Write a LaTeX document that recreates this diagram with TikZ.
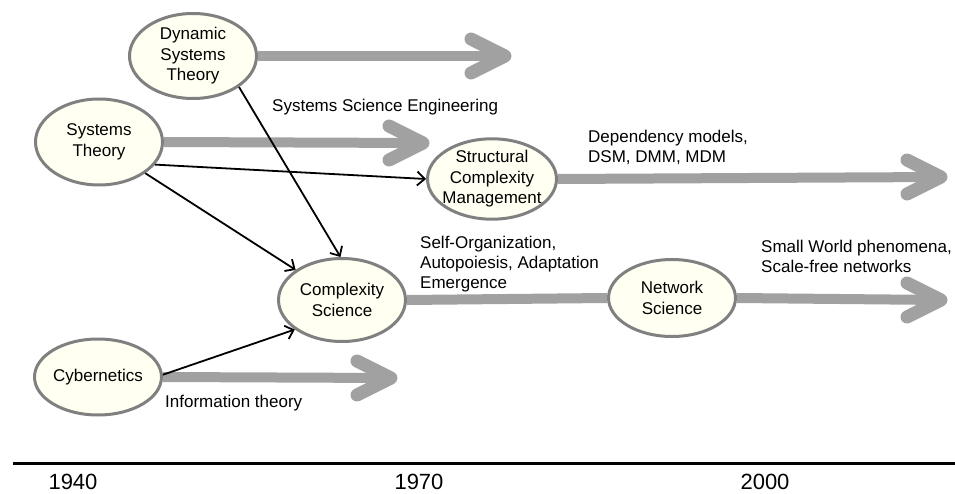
\documentclass[tikz,border=0pt]{standalone}
\usepackage{fontspec}
\setmainfont{Liberation Sans}
\usetikzlibrary{arrows.meta,shapes.geometric}
\definecolor{FieldClr}{rgb}{0.5,0.5,0.5}
\definecolor{FieldFillClr}{rgb}{1,1,0.95}
\definecolor{FlowClr}{rgb}{0.63,0.63,0.63}

\begin{document}
\begin{tikzpicture}[x=1pt,y=-1pt,
  field/.style={ellipse,draw=FieldClr,fill=FieldFillClr,line width=3pt,minimum width=127pt,minimum height=82pt,inner xsep=-4pt,inner ysep=0pt,align=center,font=\fontsize{17}{20.5}\selectfont},
  note/.style={anchor=west,align=left,inner sep=0pt,font=\fontsize{17}{20}\selectfont},
  year/.style={anchor=base,inner sep=0pt,font=\fontsize{22}{26}\selectfont},
  flow/.style={line width=10pt,color=FlowClr},
  head/.style={line width=13pt,color=FlowClr,line cap=round,line join=round},
  link/.style={line width=1.8pt,-{Straight Barb[length=7.5pt,width=14pt]}}]
\useasboundingbox (0,0) rectangle (955,494);

\node[field,minimum height=85pt] (DST) at (193,56) {Dynamic\\Systems\\Theory};
\node[field,minimum height=86pt] (ST) at (99,142) {Systems\\Theory};
\node[field,minimum height=80pt] (SCM) at (492,179) {Structural\\Complexity\\Management};
\node[field,minimum height=83pt] (CS) at (342,300) {Complexity\\Science};
\node[field,minimum height=77pt] (NS) at (672,298) {Network\\Science};
\node[field,minimum height=76pt] (CY) at (98,377) {Cybernetics};

\coordinate (DSTend) at (505,56);
\coordinate (STend) at (423,143);
\coordinate (SCMend) at (941,177);
\coordinate (NSend) at (941,300);
\coordinate (CYend) at (391,378);

\draw[flow] (DST.east) -- (DSTend);
\draw[flow] (ST.east) -- (STend);
\draw[flow] (SCM.east) -- (SCMend);
\draw[flow] (CS.east) -- (NS.west);
\draw[flow] (NS.east) -- (NSend);
\draw[flow] (CY.east) -- (CYend);

\draw[head] (DSTend) ++(-34,-17) -- (DSTend) -- ++(-34,17);
\draw[head] (STend) ++(-34,-17) -- (STend) -- ++(-34,17);
\draw[head] (SCMend) ++(-34,-17) -- (SCMend) -- ++(-34,17);
\draw[head] (NSend) ++(-34,-17) -- (NSend) -- ++(-34,17);
\draw[head] (CYend) ++(-34,-17) -- (CYend) -- ++(-34,17);

\draw[link] (DST.-34) -- (CS.92);
\draw[link] (ST.-22) -- (SCM.west);
\draw[link] (ST.-34) -- (CS.147);
\draw[link] (CY.2) -- (CS.212);

\node[note] (SSE) at (272,107) {Systems Science Engineering};
\node[note] (DEP) at (588,147) {Dependency models,\\DSM, DMM, MDM};
\node[note] (SO) at (420,264) {Self-Organization,\\Autopoiesis, Adaptation\\Emergence};
\node[note] (SW) at (761,256) {Small World phenomena,\\Scale-free networks};
\node[note] (IT) at (165,403) {Information theory};

\coordinate (T0) at (13,463);
\coordinate (T1) at (955,463);
\draw[line width=3pt] (T0) -- (T1);

\node[year] (Y1940) at (73,489) {1940};
\node[year] (Y1970) at (419,489) {1970};
\node[year] (Y2000) at (765,489) {2000};
\end{tikzpicture}
\end{document}
